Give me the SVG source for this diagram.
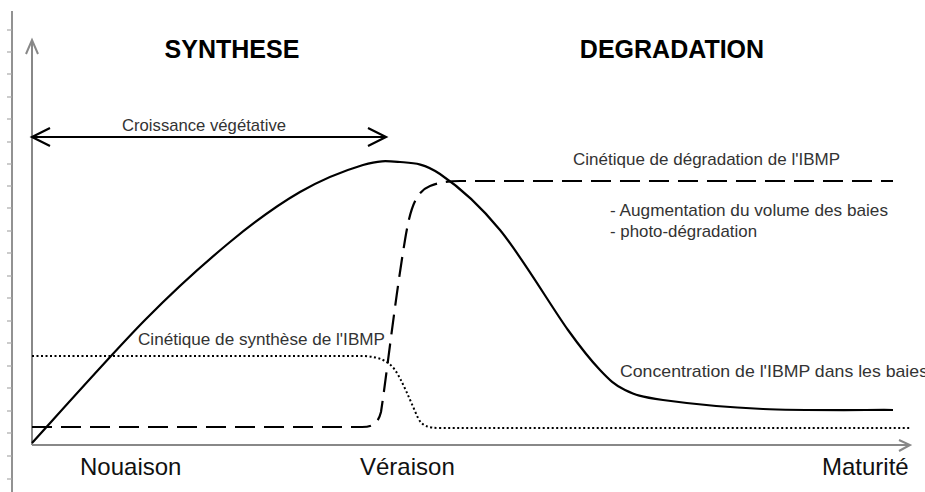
<svg xmlns="http://www.w3.org/2000/svg" width="925" height="492" viewBox="0 0 925 492">
<style>
.big{font-family:"Liberation Sans",Arial,sans-serif;font-size:24px;fill:#111}
.head{font-family:"Liberation Sans",Arial,sans-serif;font-size:25px;font-weight:bold;fill:#000}
.lab{font-family:"Liberation Sans",Arial,sans-serif;font-size:17px;fill:#333}
.axis{stroke:#888;stroke-width:2;fill:none}
.tick{stroke:#aaa;stroke-width:1.2}
.curve{stroke:#000;stroke-width:2.2;fill:none;stroke-linejoin:round}
.dash{stroke:#000;stroke-width:2.2;fill:none;stroke-dasharray:20 9}
.dot{stroke:#000;stroke-width:2;fill:none;stroke-dasharray:2 2.5}
.arr{stroke:#000;stroke-width:2.2;fill:none}
</style>
<rect width="925" height="492" fill="#fff"/>
<g id="ruler">
<line x1="12" y1="11" x2="12" y2="492" stroke="#777" stroke-width="1.6"/>
<g class="tick">
<line x1="7" y1="30" x2="12" y2="30"/><line x1="7" y1="52" x2="12" y2="52"/><line x1="7" y1="74" x2="12" y2="74"/><line x1="7" y1="97" x2="12" y2="97"/><line x1="7" y1="119" x2="12" y2="119"/><line x1="7" y1="142" x2="12" y2="142"/><line x1="7" y1="164" x2="12" y2="164"/><line x1="7" y1="186" x2="12" y2="186"/><line x1="7" y1="208" x2="12" y2="208"/><line x1="7" y1="231" x2="12" y2="231"/><line x1="7" y1="253" x2="12" y2="253"/><line x1="7" y1="276" x2="12" y2="276"/><line x1="7" y1="298" x2="12" y2="298"/><line x1="7" y1="321" x2="12" y2="321"/><line x1="7" y1="343" x2="12" y2="343"/><line x1="7" y1="366" x2="12" y2="366"/><line x1="7" y1="388" x2="12" y2="388"/><line x1="7" y1="411" x2="12" y2="411"/><line x1="7" y1="433" x2="12" y2="433"/><line x1="7" y1="456" x2="12" y2="456"/><line x1="7" y1="479" x2="12" y2="479"/>
</g>
</g>
<g id="axes">
<line class="axis" x1="32" y1="41" x2="32" y2="445"/>
<polyline class="axis" stroke-width="1.5" points="26,54 32,40 38,54"/>
<line class="axis" x1="32" y1="445" x2="909" y2="445"/>
<polyline class="axis" stroke-width="1.5" points="899,440 910,445 899,451"/>
</g>
<g id="headings">
<text class="head" x="232" y="58" text-anchor="middle">SYNTHESE</text>
<text class="head" x="672" y="58" text-anchor="middle">DEGRADATION</text>
</g>
<g id="croissance">
<line class="arr" x1="33" y1="137" x2="386" y2="137"/>
<polyline class="arr" points="50,128 32,137 50,146"/>
<polyline class="arr" points="368,128 386,137 368,146"/>
<text class="lab" x="122" y="131" textLength="164" lengthAdjust="spacingAndGlyphs">Croissance végétative</text>
</g>
<g id="connectors">
<path id="concentration" class="curve" d="M32,443 C50.8,422.5 112,353.5 145,320 C178,286.5 204.2,263.3 230,242 C255.8,220.7 277.8,204.8 300,192 C322.2,179.2 346.3,170 363,165 C379.7,160 387.2,161 400,162 C412.8,163 423.3,162.7 440,174 C456.7,185.3 478.7,204 500,230 C521.3,256 551.3,306.7 568,330 C584.7,353.3 590.5,360 600,370 C609.5,380 614.5,385 625,390 C635.5,395 640,396.8 663,400 C686,403.2 724.7,407.3 763,409 C801.3,410.7 871.3,409.8 893,410"/>
<path id="degradation" class="dash" d="M32,427 L362,427 C372,427 378,424 381,412 C386,380 395,300 405,240 C410,210 415,192 430,186 C438,183 445,181 460,181 L893,181"/>
<line class="dash" stroke-width="3.2" x1="32" y1="427" x2="196" y2="427"/>
<path id="synthese" class="dot" d="M32,356 L365,356 C378,357 388,360 395,370 C402,380 410,400 418,418 C422,426 428,428 440,428 L910,428"/>
</g>
<g id="labels">
<text class="lab" x="573" y="165" textLength="267" lengthAdjust="spacingAndGlyphs">Cinétique de dégradation de l'IBMP</text>
<text class="lab" x="610" y="216" textLength="278" lengthAdjust="spacingAndGlyphs">- Augmentation du volume des baies</text>
<text class="lab" x="610" y="237" textLength="147" lengthAdjust="spacingAndGlyphs">- photo-dégradation</text>
<text class="lab" x="138" y="345" textLength="247" lengthAdjust="spacingAndGlyphs">Cinétique de synthèse de l'IBMP</text>
<text class="lab" x="620" y="377" textLength="308" lengthAdjust="spacingAndGlyphs">Concentration de l'IBMP dans les baies</text>
</g>
<g id="stages">
<text class="big" x="80" y="475">Nouaison</text>
<text class="big" x="360" y="475">Véraison</text>
<text class="big" x="822" y="475">Maturité</text>
</g>
</svg>
